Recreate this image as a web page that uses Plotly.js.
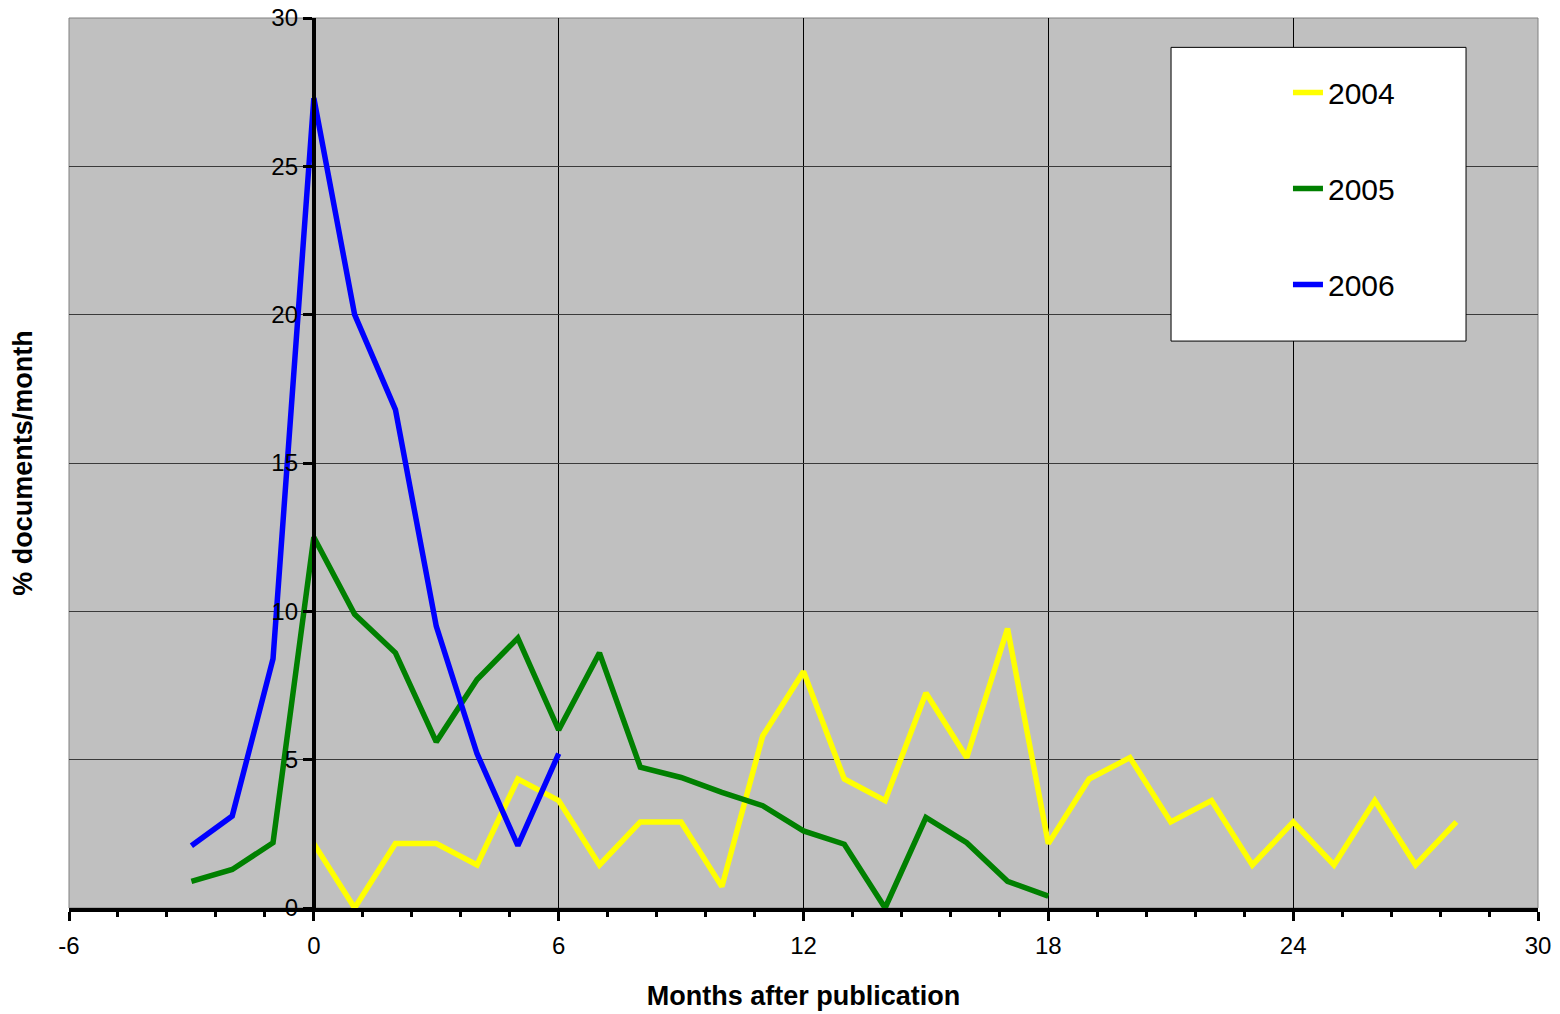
<!DOCTYPE html>
<html>
<head>
<meta charset="utf-8">
<script src="https://cdn.plot.ly/plotly-3.0.1.min.js"></script>
<style>html,body{margin:0;padding:0;background:#fff;}#chart{width:1560px;height:1014px;}</style>
</head>
<body>
<div id="chart"></div>
<script>
// Data
const months2004 = [0,1,2,3,4,5,6,7,8,9,10,11,12,13,14,15,16,17,18,19,20,21,22,23,24,25,26,27,28];
const values2004 = [2.17,0,2.17,2.17,1.45,4.35,3.62,1.45,2.90,2.90,0.72,5.80,7.97,4.35,3.62,7.25,5.07,9.42,2.17,4.35,5.07,2.90,3.62,1.45,2.90,1.45,3.62,1.45,2.90];

const months2005 = [-3,-2,-1,0,1,2,3,4,5,6,7,8,9,10,11,12,13,14,15,16,17,18];
const values2005 = [0.9,1.3,2.2,12.5,9.9,8.6,5.6,7.7,9.1,6.0,8.6,4.75,4.4,3.9,3.45,2.6,2.15,0,3.05,2.2,0.9,0.4];

const months2006 = [-3,-2,-1,0,1,2,3,4,5,6];
const values2006 = [2.1,3.1,8.4,27.3,20.0,16.8,9.5,5.2,2.1,5.2];

const seriesNames = ["2004","2005","2006"];
const seriesColors = ["#FFFF00","#008000","#0000FF"];
const xTickVals = [-6,0,6,12,18,24,30];
const yTickVals = [0,5,10,15,20,25,30];

const FONT = "Liberation Sans, Arial, sans-serif";

const traces = [
  {x: months2004, y: values2004, name: seriesNames[0], color: seriesColors[0]},
  {x: months2005, y: values2005, name: seriesNames[1], color: seriesColors[1]},
  {x: months2006, y: values2006, name: seriesNames[2], color: seriesColors[2]}
].map((s, i) => ({
  type: "scatter", mode: "lines", x: s.x, y: s.y, name: s.name,
  legendgroup: "g" + i,
  line: {color: s.color, width: 5.5},
  hoverinfo: "x+y+name"
}));

const layout = {
  width: 1560, height: 1014,
  margin: {l: 69, r: 22, t: 18, b: 106, pad: 0},
  paper_bgcolor: "#ffffff",
  plot_bgcolor: "#C0C0C0",
  font: {family: FONT, color: "#000", size: 24},
  showlegend: true,
  legend: {
    x: 0.8298, xanchor: "left", y: 0.9455, yanchor: "top",
    bgcolor: "rgba(0,0,0,0)", borderwidth: 0,
    font: {family: FONT, size: 30, color: "#000"},
    traceorder: "grouped", tracegroupgap: 54
  },
  xaxis: {
    range: [-6, 30], tickvals: xTickVals, ticktext: xTickVals.map(String),
    showgrid: true, gridcolor: "#000000", gridwidth: 1,
    zeroline: false,
    showline: true, linecolor: "#000", linewidth: 4,
    ticks: "outside", ticklen: 9, tickwidth: 3, tickcolor: "#000",
    ticklabelstandoff: 4,
    minor: {dtick: 1.2, tick0: -6, ticks: "outside", ticklen: 5, tickwidth: 3, tickcolor: "#000", showgrid: false},
    tickfont: {family: FONT, size: 24},
    title: {text: "Months after publication", font: {family: FONT, size: 27, weight: "bold"}, standoff: 29},
    automargin: false, fixedrange: true
  },
  yaxis: {
    range: [0, 30], tickvals: yTickVals,
    anchor: "free", position: 1/6,
    showgrid: true, gridcolor: "#3a3a3a", gridwidth: 1,
    zeroline: false,
    showline: true, linecolor: "#000", linewidth: 4,
    ticks: "outside", ticklen: 9, tickwidth: 3, tickcolor: "#000",
    tickfont: {family: FONT, size: 24},
    title: {text: "% documents/month", font: {family: FONT, size: 27, weight: "bold"}, standoff: 230},
    automargin: false, fixedrange: true
  },
  shapes: [
    {type: "rect", xref: "paper", yref: "paper", x0: 0, x1: 1, y0: 0, y1: 1,
     line: {color: "#808080", width: 1}, fillcolor: "rgba(0,0,0,0)", layer: "below"},
    {type: "rect", xref: "paper", yref: "paper", x0: 0.7502, x1: 0.951, y0: 0.637, y1: 0.967,
     line: {color: "#000", width: 1}, fillcolor: "#ffffff", layer: "above"}
  ]
};

Plotly.newPlot("chart", traces, layout, {displayModeBar: false, staticPlot: true});
</script>
</body>
</html>
